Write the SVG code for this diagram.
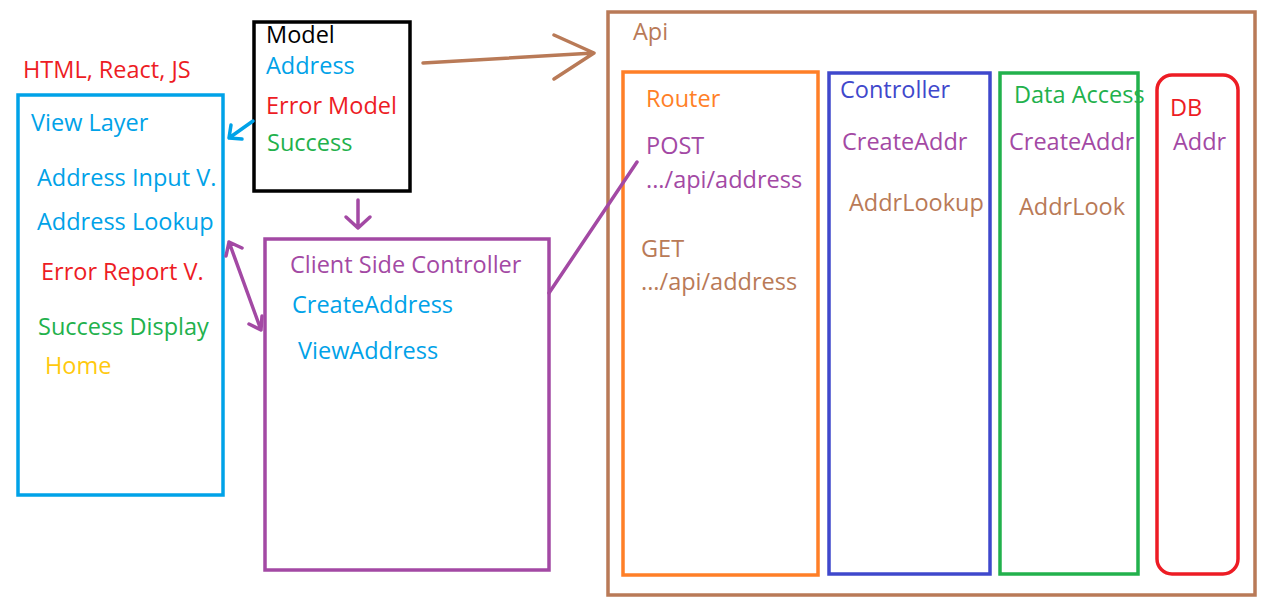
<svg xmlns="http://www.w3.org/2000/svg" width="1262" height="599" viewBox="0 0 1262 599">
<defs>
<style>
text{font-family:"Open Sans","Noto Sans","Liberation Sans",sans-serif;font-size:23.5px}
.box{fill:none;stroke-width:3.5}
.ln{fill:none;stroke-width:3.5;stroke-linecap:round;stroke-linejoin:round}
.lb{fill:#00A2E8}.red{fill:#ED1C24}.grn{fill:#22B14C}.pur{fill:#A349A4}.brn{fill:#B97A57}.org{fill:#FF7F27}.blu{fill:#3F48CC}.yel{fill:#FFC90E}.blk{fill:#000}
</style>
</defs>
<rect width="1262" height="599" fill="#fff"/>
<g id="view-layer">
<text x="23" y="78" class="red">HTML, React, JS</text>
<rect class="box" x="18" y="95" width="205" height="400" stroke="#00A2E8"/>
<text x="31" y="131" class="lb">View Layer</text>
<text x="37" y="186" class="lb">Address Input V.</text>
<text x="37" y="230" class="lb">Address Lookup</text>
<text x="41" y="280" class="red">Error Report V.</text>
<text x="38" y="335" class="grn">Success Display</text>
<text x="45" y="374" class="yel">Home</text>
</g>
<g id="model">
<rect class="box" x="254" y="22" width="156" height="169" stroke="#000"/>
<text x="266" y="43" class="blk">Model</text>
<text x="266" y="74" class="lb">Address</text>
<text x="266" y="114" class="red">Error Model</text>
<text x="267" y="151" class="grn">Success</text>
</g>
<g id="client-controller">
<rect class="box" x="265" y="239" width="284" height="331" stroke="#A349A4"/>
<text x="290" y="273" class="pur">Client Side Controller</text>
<text x="292" y="313" class="lb">CreateAddress</text>
<text x="298" y="359" class="lb">ViewAddress</text>
</g>
<g id="api">
<rect class="box" x="608" y="12" width="647" height="583" stroke="#B97A57"/>
<text x="633" y="40" class="brn">Api</text>
</g>
<g id="router">
<rect class="box" x="623" y="72" width="195" height="503" stroke="#FF7F27"/>
<text x="646" y="107" class="org">Router</text>
<text x="646" y="154" class="pur">POST</text>
<text x="646" y="188" class="pur">.../api/address</text>
<text x="641" y="257" class="brn">GET</text>
<text x="641" y="290" class="brn">.../api/address</text>
</g>
<g id="controller">
<rect class="box" x="829" y="73" width="161" height="501" stroke="#3F48CC"/>
<text x="840" y="98" class="blu">Controller</text>
<text x="842" y="150" class="pur">CreateAddr</text>
<text x="849" y="211" class="brn">AddrLookup</text>
</g>
<g id="data-access">
<rect class="box" x="1000" y="73" width="138" height="501" stroke="#22B14C"/>
<text x="1014" y="103" class="grn">Data Access</text>
<text x="1009" y="150" class="pur">CreateAddr</text>
<text x="1019" y="215" class="brn">AddrLook</text>
</g>
<g id="db">
<rect class="box" x="1157" y="75" width="81" height="499" rx="15" stroke="#ED1C24"/>
<text x="1170" y="116" class="red">DB</text>
<text x="1173" y="150" class="pur">Addr</text>
</g>
<g id="connectors">
<path class="ln" stroke="#00A2E8" d="M253 121 L229 138 M231 125 L229 138 L242 139"/>
<path class="ln" stroke="#A349A4" d="M358 200 L358 228 M346 217 L358 228 L370 217"/>
<path class="ln" stroke="#A349A4" d="M229 242 L261 330 M229 242 L242 248 M229 242 L226 256 M261 330 L249 324 M261 330 L262 316"/>
<path class="ln" stroke="#A349A4" d="M549 293 L637 162"/>
<path class="ln" stroke="#B97A57" d="M423 63 L594 53 M554 35 L594 53 L554 79"/>
</g>
</svg>
